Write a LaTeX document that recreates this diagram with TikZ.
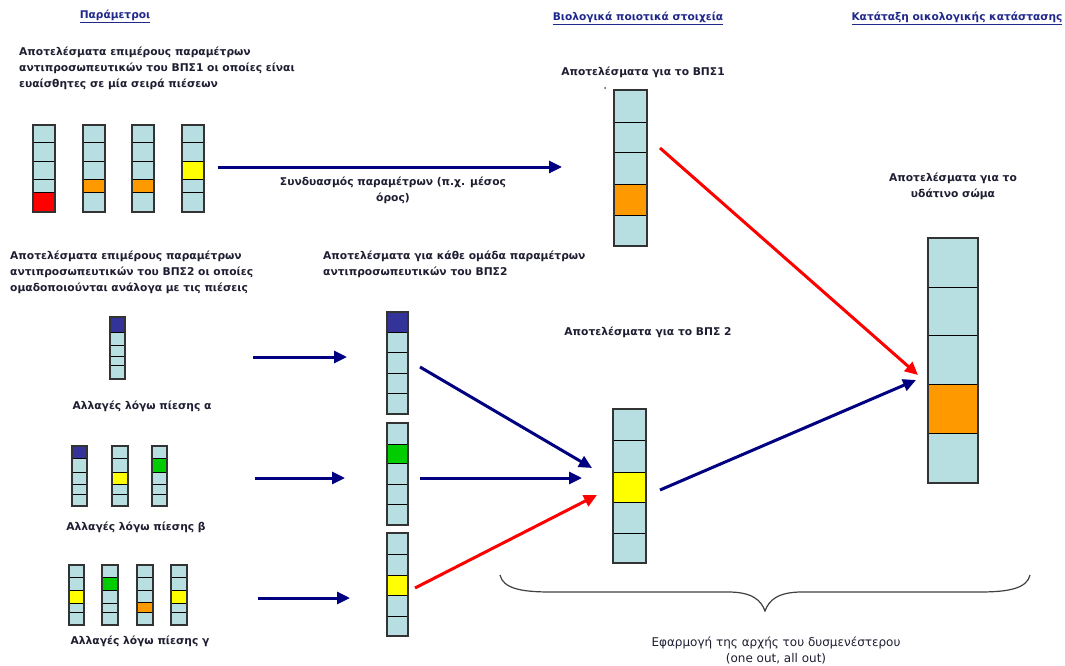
\documentclass[tikz,border=0pt]{standalone}
\usepackage{fontspec}
\setmainfont{DejaVu Sans}
\usetikzlibrary{arrows.meta,fit}
\definecolor{cellfill}{RGB}{183,222,225}
\definecolor{navyarrow}{RGB}{0,0,128}
\definecolor{headcol}{RGB}{32,40,140}
\definecolor{txt}{RGB}{30,30,50}
\definecolor{cnavy}{RGB}{51,51,153}
\definecolor{corange}{RGB}{255,153,0}
\definecolor{cyellow}{RGB}{255,255,0}
\definecolor{cgreen}{RGB}{0,204,0}
\definecolor{cred}{RGB}{255,0,0}
\tikzset{
  cell/.style={draw=black, line width=0.8pt},
  barframe/.style={draw=black!80, line width=1.3pt, inner sep=0pt},
  navyarr/.style={draw=navyarrow, line width=3pt, -{Triangle[length=13pt,width=12pt]}},
  redarr/.style={draw=cred, line width=3pt, -{Triangle[length=13pt,width=12pt]}},
  lbl/.style={font=\bfseries\fontsize{10.7}{16}\selectfont, text=txt, inner sep=0pt},
  head/.style={font=\bfseries\fontsize{10.6}{12}\selectfont, text=headcol, inner sep=0pt},
  note/.style={font=\fontsize{12}{16}\selectfont, text=txt, inner sep=0pt, align=center},
  bracestyle/.style={draw=black!75, line width=1.2pt},
}
\newcommand{\colbar}[6]{%
  \foreach \ya/\yb/\cellcol in {#6}{\draw[cell, fill=\cellcol] (#2,\ya) rectangle (#3,\yb);}
  \coordinate (#1-a) at (#2,#4);
  \coordinate (#1-b) at (#3,#5);
  \node[barframe, fit=(#1-a)(#1-b)] (#1) {};
}
\begin{document}
\begin{tikzpicture}[x=1pt,y=-1pt]
\useasboundingbox (0,0) rectangle (1065,666);
% headers
\node[head, anchor=base] (h1) at (115,19) {\underline{Παράμετροι}};
\node[head, anchor=base] (h2) at (638,21) {\underline{Βιολογικά ποιοτικά στοιχεία}};
\node[head, anchor=base] (h3) at (957,21) {\underline{Κατάταξη οικολογικής κατάστασης}};
% texts
\node[lbl, align=left, anchor=west] (t1) at (19,68) {Αποτελέσματα επιμέρους παραμέτρων\\αντιπροσωπευτικών του ΒΠΣ1 οι οποίες είναι\\ευαίσθητες σε μία σειρά πιέσεων};
\node[lbl] (t2) at (643,72) {Αποτελέσματα για το ΒΠΣ1};
\node[lbl, align=center] (t3) at (393,190) {Συνδυασμός παραμέτρων (π.χ. μέσος\\όρος)};
\node[lbl, align=left, anchor=west] (t4) at (10,272) {Αποτελέσματα επιμέρους παραμέτρων\\αντιπροσωπευτικών του ΒΠΣ2 οι οποίες\\ομαδοποιούνται ανάλογα με τις πιέσεις};
\node[lbl, align=left, anchor=west] (t5) at (323,264.5) {Αποτελέσματα για κάθε ομάδα παραμέτρων\\αντιπροσωπευτικών του ΒΠΣ2};
\node[lbl] (t6) at (648,332) {Αποτελέσματα για το ΒΠΣ 2};
\node[lbl, align=center] (t7) at (953,186) {Αποτελέσματα για το\\υδάτινο σώμα};
\node[lbl] (t8) at (142,406) {Αλλαγές λόγω πίεσης α};
\node[lbl] (t9) at (136,527) {Αλλαγές λόγω πίεσης β};
\node[lbl] (t10) at (140,641) {Αλλαγές λόγω πίεσης γ};
\node[note] (t11) at (776,650) {Εφαρμογή της αρχής του δυσμενέστερου\\(one out, all out)};
% top-left bars
\colbar{p1}{33}{55}{125}{212}{125/142/cellfill,142/161/cellfill,161/179/cellfill,179/192/cellfill,192/212/cred}
\colbar{p2}{83}{105}{125}{212}{125/142/cellfill,142/161/cellfill,161/179/cellfill,179/192/corange,192/212/cellfill}
\colbar{p3}{132}{154}{125}{212}{125/142/cellfill,142/161/cellfill,161/179/cellfill,179/192/corange,192/212/cellfill}
\colbar{p4}{182}{204}{125}{212}{125/142/cellfill,142/161/cellfill,161/179/cyellow,179/192/cellfill,192/212/cellfill}
% BPS1 bar
\fill[black!70] (605,88) circle (1pt);
\colbar{v1}{614}{647}{90}{246}{90/122/cellfill,122/152/cellfill,152/184/cellfill,184/215/corange,215/246/cellfill}
% water body bar
\colbar{ws}{928}{978}{238}{483}{238/287/cellfill,287/335/cellfill,335/384/cellfill,384/433/corange,433/483/cellfill}
% BPS2 bar
\colbar{v2}{613}{646}{409}{563}{409/440/cellfill,440/472/cellfill,472/502/cyellow,502/533/cellfill,533/563/cellfill}
% group bars
\colbar{ga}{387}{408}{312}{414}{312/332/cnavy,332/352/cellfill,352/373/cellfill,373/393/cellfill,393/414/cellfill}
\colbar{gb}{387}{408}{423}{525}{423/444/cellfill,444/463/cgreen,463/484/cellfill,484/504/cellfill,504/525/cellfill}
\colbar{gc}{387}{408}{533}{636}{533/554/cellfill,554/575/cellfill,575/595/cyellow,595/616/cellfill,616/636/cellfill}
% pressure a
\colbar{pa1}{110}{125}{317}{379}{317/332/cnavy,332/345/cellfill,345/356/cellfill,356/365/cellfill,365/379/cellfill}
% pressure b
\colbar{pb1}{72}{87}{446}{506}{446/458/cnavy,458/472/cellfill,472/484/cellfill,484/494/cellfill,494/506/cellfill}
\colbar{pb2}{112}{128}{446}{506}{446/458/cellfill,458/472/cellfill,472/484/cyellow,484/494/cellfill,494/506/cellfill}
\colbar{pb3}{152}{167}{446}{506}{446/458/cellfill,458/472/cgreen,472/484/cellfill,484/494/cellfill,494/506/cellfill}
% pressure c
\colbar{pc1}{69}{84}{565}{625}{565/577/cellfill,577/590/cellfill,590/603/cyellow,603/612/cellfill,612/625/cellfill}
\colbar{pc2}{102}{118}{565}{625}{565/577/cellfill,577/590/cgreen,590/603/cellfill,603/612/cellfill,612/625/cellfill}
\colbar{pc3}{137}{153}{565}{625}{565/577/cellfill,577/590/cellfill,590/602/cellfill,602/612/corange,612/625/cellfill}
\colbar{pc4}{171}{187}{565}{625}{565/577/cellfill,577/590/cellfill,590/603/cyellow,603/612/cellfill,612/625/cellfill}
% arrow end points
\coordinate (a1s) at (218,167); \coordinate (a1e) at (562,167);
\coordinate (a2s) at (660,148); \coordinate (a2e) at (918,375);
\coordinate (a3s) at (660,490); \coordinate (a3e) at (916,380);
\coordinate (a4s) at (420,367); \coordinate (a4e) at (592,468);
\coordinate (a5s) at (420,478); \coordinate (a5e) at (582,478);
\coordinate (a6s) at (415,588); \coordinate (a6e) at (597,495);
\coordinate (a7s) at (253,357); \coordinate (a7e) at (347,357);
\coordinate (a8s) at (255,478); \coordinate (a8e) at (345,478);
\coordinate (a9s) at (258,598); \coordinate (a9e) at (350,598);
\draw[navyarr] (a1s) -- (a1e);
\draw[redarr] (a2s) -- (a2e);
\draw[navyarr] (a3s) -- (a3e);
\draw[navyarr] (a4s) -- (a4e);
\draw[navyarr] (a5s) -- (a5e);
\draw[redarr] (a6s) -- (a6e);
\draw[navyarr] (a7s) -- (a7e);
\draw[navyarr] (a8s) -- (a8e);
\draw[navyarr] (a9s) -- (a9e);
% brace
\coordinate (brl) at (500,575); \coordinate (brt) at (765,611); \coordinate (brr) at (1030,575);
\draw[bracestyle] (brl) .. controls (503,588) and (520,592) .. (550,592) -- (728,592) .. controls (752,592) and (761,600) .. (brt) .. controls (769,600) and (778,592) .. (802,592) -- (980,592) .. controls (1010,592) and (1027,588) .. (brr);
\end{tikzpicture}
\end{document}
